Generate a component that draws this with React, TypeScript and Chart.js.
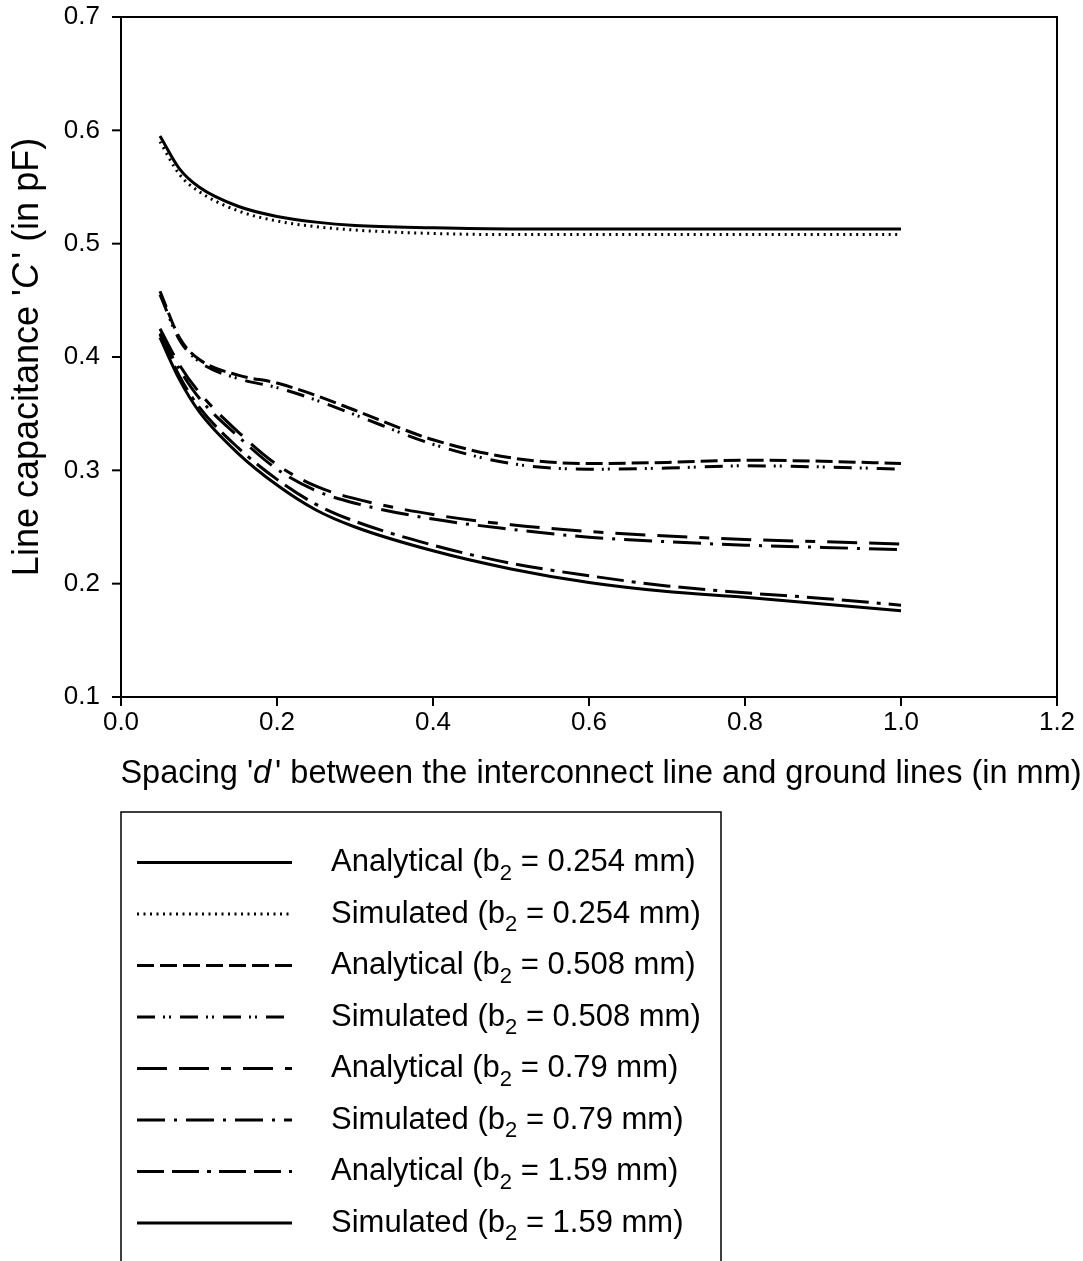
import React, { useEffect, useRef } from "react";
import { Chart, registerables } from "chart.js";

Chart.register(...registerables);

const dValues = [0.05, 0.075, 0.1, 0.15, 0.2, 0.25, 0.3, 0.4, 0.5, 0.6, 0.7, 0.8, 0.9, 1.0];

const analytical254 = [0.595, 0.566, 0.550, 0.533, 0.524, 0.519, 0.516, 0.514, 0.513, 0.513, 0.513, 0.513, 0.513, 0.513];
const simulated254 = [0.590, 0.561, 0.546, 0.529, 0.520, 0.515, 0.512, 0.509, 0.508, 0.508, 0.508, 0.508, 0.508, 0.508];
const analytical508 = [0.458, 0.417, 0.398, 0.384, 0.377, 0.366, 0.353, 0.327, 0.311, 0.306, 0.307, 0.309, 0.308, 0.306];
const simulated508 = [0.455, 0.415, 0.396, 0.381, 0.373, 0.362, 0.349, 0.323, 0.306, 0.301, 0.302, 0.304, 0.303, 0.301];
const analytical79 = [0.425, 0.393, 0.369, 0.334, 0.305, 0.286, 0.275, 0.261, 0.252, 0.246, 0.242, 0.239, 0.237, 0.235];
const simulated79 = [0.421, 0.389, 0.364, 0.330, 0.301, 0.282, 0.271, 0.257, 0.248, 0.241, 0.237, 0.234, 0.232, 0.230];
const analytical159 = [0.420, 0.383, 0.356, 0.320, 0.292, 0.270, 0.255, 0.234, 0.218, 0.207, 0.198, 0.192, 0.187, 0.181];
const simulated159 = [0.417, 0.380, 0.352, 0.315, 0.287, 0.265, 0.250, 0.229, 0.213, 0.201, 0.193, 0.188, 0.182, 0.176];

const seriesLabels = [
  ["Analytical", "0.254"],
  ["Simulated", "0.254"],
  ["Analytical", "0.508"],
  ["Simulated", "0.508"],
  ["Analytical", "0.79"],
  ["Simulated", "0.79"],
  ["Analytical", "1.59"],
  ["Simulated", "1.59"],
];

const xTickValues = [0.0, 0.2, 0.4, 0.6, 0.8, 1.0, 1.2];
const yTickValues = [0.1, 0.2, 0.3, 0.4, 0.5, 0.6, 0.7];

const xTitleParts = ["Spacing '", "d", "' between the interconnect line and ground lines (in mm)"];
const yTitleParts = ["Line capacitance '", "C", "' (in pF)"];

const FONT = "'Liberation Sans', Arial, sans-serif";

const dashes: number[][] = [
  [],
  [2, 4.5],
  [17, 6],
  [18, 8, 2, 4, 2, 9],
  [30, 12, 30, 12, 10, 12],
  [28, 9, 3, 9],
  [27, 8, 27, 8, 4, 8],
  [],
];

export default function App() {
  const ref = useRef<HTMLCanvasElement>(null);
  useEffect(() => {
    document.body.style.margin = "0";
    const all = [analytical254, simulated254, analytical508, simulated508, analytical79, simulated79, analytical159, simulated159];
    const datasets = all.map((vals, i) => ({
      label: seriesLabels[i][0] + " (b2 = " + seriesLabels[i][1] + " mm)",
      data: vals.map((v, j) => ({ x: dValues[j], y: v })),
      borderColor: "#000",
      borderWidth: 3,
      borderDash: dashes[i],
      pointRadius: 0,
      fill: false,
      cubicInterpolationMode: "monotone" as const,
    }));

    const decor = {
      id: "decor",
      afterDraw(chart: any) {
        const ctx = chart.ctx as CanvasRenderingContext2D;
        const a = chart.chartArea;
        ctx.save();
        ctx.strokeStyle = "#000";
        ctx.lineWidth = 2;
        ctx.setLineDash([]);
        ctx.strokeRect(a.left, a.top, a.right - a.left, a.bottom - a.top);
        const xs = chart.scales.x, ys = chart.scales.y;
        xTickValues.forEach((v) => {
          const px = xs.getPixelForValue(v);
          ctx.beginPath();
          ctx.moveTo(px, a.bottom);
          ctx.lineTo(px, a.bottom + 9);
          ctx.stroke();
        });
        yTickValues.forEach((v) => {
          const py = ys.getPixelForValue(v);
          ctx.beginPath();
          ctx.moveTo(a.left, py);
          ctx.lineTo(a.left - 9, py);
          ctx.stroke();
        });
        ctx.fillStyle = "#000";
        ctx.textBaseline = "alphabetic";
        const drawParts = (parts: string[], size: number, cx: number) => {
          const fonts = [`${size}px ${FONT}`, `italic ${size}px ${FONT}`, `${size}px ${FONT}`];
          const gap = [0, size * 0.12, 0];
          const widths = parts.map((t, i) => { ctx.font = fonts[i]; return ctx.measureText(t).width + gap[i]; });
          const total = widths.reduce((s, w) => s + w, 0);
          let x = cx - total / 2;
          parts.forEach((t, i) => { ctx.font = fonts[i]; ctx.fillText(t, x, 0); x += widths[i]; });
        };
        ctx.save();
        ctx.translate(0, 783);
        drawParts(xTitleParts, 32.5, 601);
        ctx.restore();
        ctx.save();
        ctx.translate(38, 357);
        ctx.rotate(-Math.PI / 2);
        drawParts(yTitleParts, 36, 0);
        ctx.restore();
        // legend box
        ctx.lineWidth = 1.5;
        ctx.strokeRect(121, 812, 600, 480);
        const lsize = 31;
        seriesLabels.forEach((lab, i) => {
          const cy = 862.5 + i * 51.5;
          ctx.setLineDash(dashes[i]);
          ctx.lineWidth = 3;
          ctx.beginPath();
          ctx.moveTo(137, cy);
          ctx.lineTo(292, cy);
          ctx.stroke();
          ctx.setLineDash([]);
          ctx.textBaseline = "middle";
          let tx = 331;
          ctx.font = `${lsize}px ${FONT}`;
          const p1 = lab[0] + " (b";
          ctx.fillText(p1, tx, cy);
          tx += ctx.measureText(p1).width;
          ctx.font = `${Math.round(lsize * 0.7)}px ${FONT}`;
          ctx.fillText("2", tx, cy + 11);
          tx += ctx.measureText("2").width;
          ctx.font = `${lsize}px ${FONT}`;
          ctx.fillText(" = " + lab[1] + " mm)", tx, cy);
        });
        ctx.restore();
      },
    };

    const chart = new Chart(ref.current!, {
      type: "line",
      data: { datasets },
      options: {
        responsive: false,
        animation: false,
        events: [],
        layout: { padding: { left: 0, right: 26, top: 17, bottom: 0 } },
        plugins: { legend: { display: false }, tooltip: { enabled: false } },
        scales: {
          x: {
            type: "linear",
            min: 0,
            max: 1.2,
            afterBuildTicks: (s: any) => { s.ticks = xTickValues.map((v) => ({ value: v })); },
            afterFit: (s: any) => { s.height = 1261 - 697; s.paddingLeft = 0; s.paddingRight = 0; },
            grid: { display: false, drawTicks: false },
            border: { display: false },
            ticks: {
              color: "#000",
              font: { family: FONT, size: 26 },
              padding: 10,
              maxRotation: 0,
              callback: (v: any) => Number(v).toFixed(1),
            },
          },
          y: {
            type: "linear",
            min: 0.1,
            max: 0.7,
            afterBuildTicks: (s: any) => { s.ticks = yTickValues.map((v) => ({ value: v })); },
            afterFit: (s: any) => { s.width = 121; s.paddingTop = 0; s.paddingBottom = 0; },
            grid: { display: false, drawTicks: false },
            border: { display: false },
            ticks: {
              color: "#000",
              font: { family: FONT, size: 26 },
              padding: 21,
              callback: (v: any) => Number(v).toFixed(1),
            },
          },
        },
      },
      plugins: [decor],
    });
    return () => chart.destroy();
  }, []);
  return <canvas ref={ref} width={1083} height={1261} style={{ display: "block" }} />;
}
